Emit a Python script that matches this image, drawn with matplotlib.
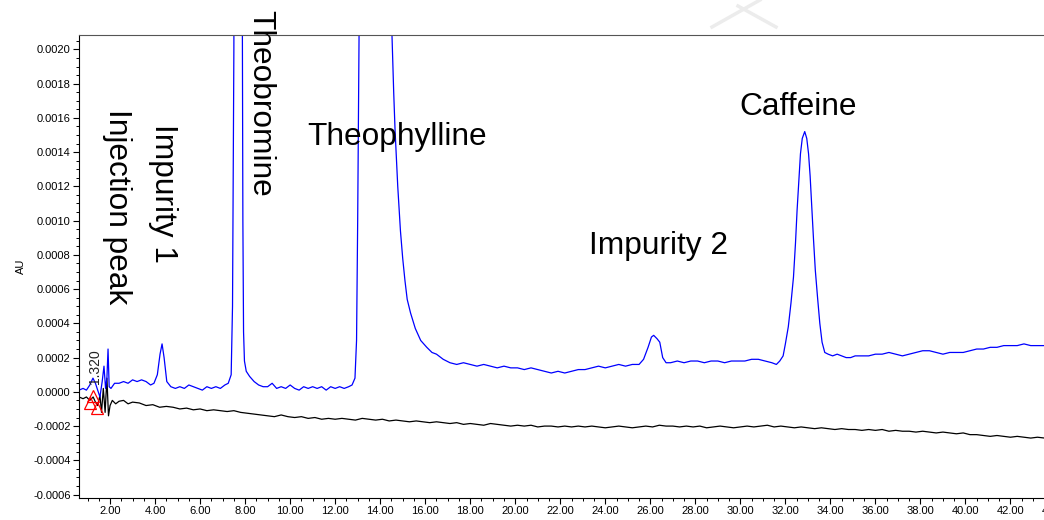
import numpy as np
import matplotlib
matplotlib.use("Agg")
import matplotlib.pyplot as plt
from matplotlib.ticker import MultipleLocator, FormatStrFormatter
from matplotlib.lines import Line2D

plt.rcParams['font.family'] = ['Liberation Sans', 'DejaVu Sans']

# blue trace (sample), time in min, absorbance in 1e-4 AU
blue_t = [0.62, 0.8, 0.95, 1.1, 1.24, 1.35, 1.45, 1.55, 1.65, 1.73, 1.8, 1.86, 1.91, 1.96, 2.04,
          2.2, 2.4, 2.6, 2.8, 3.0, 3.2, 3.4, 3.6, 3.8, 3.95, 4.1, 4.22, 4.31, 4.4, 4.52,
          4.7, 4.9, 5.1, 5.3, 5.5, 5.7, 5.9, 6.1, 6.3, 6.5, 6.7, 6.9, 7.1, 7.25, 7.38,
          7.44, 7.5, 7.6, 7.7, 7.8, 7.87, 7.9, 7.93, 7.97, 8.05, 8.2, 8.4, 8.6, 8.8, 9.0,
          9.2, 9.4, 9.6, 9.8, 10.0, 10.2, 10.4, 10.6, 10.8, 11.0, 11.2, 11.4, 11.6, 11.8, 12.0,
          12.2, 12.4, 12.6, 12.75, 12.88, 12.95, 13.0, 13.07, 13.2, 13.6, 14.0, 14.4, 14.52, 14.6,
          14.66, 14.78, 14.9, 15.0, 15.1, 15.2, 15.35, 15.56, 15.8, 16.07, 16.3, 16.5, 16.8, 17.1,
          17.4, 17.7, 18.0, 18.3, 18.6, 18.9, 19.2, 19.5, 19.8, 20.1, 20.4, 20.7, 21.0, 21.3,
          21.6, 21.9, 22.2, 22.5, 22.8, 23.1, 23.4, 23.7, 24.0, 24.3, 24.6, 24.9, 25.2, 25.5,
          25.7, 25.9, 26.05, 26.15, 26.3, 26.42, 26.55, 26.7, 26.9, 27.2, 27.5, 27.8, 28.1, 28.4,
          28.7, 29.0, 29.3, 29.6, 29.9, 30.2, 30.5, 30.8, 31.1, 31.4, 31.6, 31.75, 31.9, 32.0,
          32.13, 32.25, 32.36, 32.45, 32.52, 32.6, 32.67, 32.75, 32.86, 32.95, 33.03, 33.1, 33.18,
          33.25, 33.33, 33.43, 33.53, 33.63, 33.75, 33.9, 34.1, 34.3, 34.5, 34.7, 34.9, 35.1,
          35.4, 35.7, 36.0, 36.3, 36.6, 36.9, 37.2, 37.5, 37.8, 38.1, 38.4, 38.7, 39.0, 39.3,
          39.6, 39.9, 40.2, 40.5, 40.8, 41.1, 41.4, 41.7, 42.0, 42.3, 42.6, 42.9, 43.2, 43.5, 44.2]
blue_v = [0.1, 0.2, 0.1, 0.4, 0.8, 0.5, 0.1, -0.3, 0.6, 1.5, 0.2, 0.8, 2.5, 0.3, 0.2,
          0.5, 0.5, 0.6, 0.5, 0.7, 0.6, 0.7, 0.6, 0.4, 0.5, 1.0, 2.2, 2.8, 2.0, 0.6,
          0.3, 0.2, 0.3, 0.2, 0.4, 0.3, 0.2, 0.1, 0.3, 0.2, 0.3, 0.2, 0.4, 0.5, 1.0,
          5.0, 20.0, 80.0, 100.0, 80.0, 25.0, 10.0, 3.5, 1.8, 1.2, 0.9, 0.6, 0.4, 0.3, 0.3,
          0.5, 0.2, 0.3, 0.2, 0.4, 0.2, 0.1, 0.3, 0.2, 0.3, 0.2, 0.3, 0.1, 0.3, 0.2,
          0.3, 0.2, 0.3, 0.4, 0.8, 3.0, 10.0, 22.0, 60.0, 120.0, 150.0, 40.0, 21.0, 17.5,
          15.3, 12.0, 9.4, 7.8, 6.5, 5.4, 4.6, 3.7, 3.0, 2.6, 2.3, 2.2, 1.9, 1.7,
          1.6, 1.7, 1.6, 1.5, 1.6, 1.5, 1.4, 1.5, 1.4, 1.4, 1.3, 1.4, 1.3, 1.2,
          1.1, 1.2, 1.1, 1.2, 1.3, 1.3, 1.4, 1.5, 1.4, 1.5, 1.6, 1.5, 1.6, 1.6,
          1.9, 2.6, 3.2, 3.3, 3.1, 2.9, 2.0, 1.7, 1.7, 1.8, 1.7, 1.8, 1.8, 1.7,
          1.8, 1.8, 1.7, 1.8, 1.8, 1.8, 1.9, 1.9, 1.8, 1.7, 1.6, 1.8, 2.1, 2.8,
          3.8, 5.2, 6.7, 8.7, 10.6, 12.4, 13.9, 14.8, 15.2, 14.8, 13.9, 12.6, 10.6,
          8.9, 7.1, 5.5, 4.0, 2.9, 2.3, 2.2, 2.1, 2.2, 2.1, 2.0, 2.0, 2.1,
          2.1, 2.1, 2.2, 2.2, 2.3, 2.2, 2.1, 2.2, 2.3, 2.4, 2.4, 2.3, 2.2, 2.3,
          2.3, 2.3, 2.4, 2.5, 2.5, 2.6, 2.6, 2.7, 2.7, 2.7, 2.8, 2.7, 2.7, 2.7, 2.7]

# black trace (blank), same units
black_t = [0.62, 0.8, 0.95, 1.1, 1.25, 1.35, 1.45, 1.55, 1.62, 1.7, 1.78, 1.86, 1.93, 2.0, 2.1,
           2.25, 2.4, 2.6, 2.8, 3.0, 3.3, 3.6, 3.9, 4.2, 4.5, 4.8, 5.1, 5.4, 5.7, 6.0,
           6.3, 6.6, 6.9, 7.2, 7.5, 7.8, 8.1, 8.4, 8.7, 9.0, 9.3, 9.6, 9.9, 10.2, 10.5,
           10.8, 11.1, 11.4, 11.7, 12.0, 12.3, 12.6, 12.9, 13.2, 13.5, 13.8, 14.1, 14.4, 14.7,
           15.0, 15.3, 15.6, 15.9, 16.2, 16.5, 16.8, 17.1, 17.4, 17.7, 18.0, 18.3, 18.6, 18.9,
           19.2, 19.5, 19.8, 20.1, 20.4, 20.7, 21.0, 21.3, 21.6, 21.9, 22.2, 22.5, 22.8, 23.1,
           23.4, 23.7, 24.0, 24.3, 24.6, 24.9, 25.2, 25.5, 25.8, 26.1, 26.4, 26.7, 27.0, 27.3,
           27.6, 27.9, 28.2, 28.5, 28.8, 29.1, 29.4, 29.7, 30.0, 30.3, 30.6, 30.9, 31.2, 31.5,
           31.8, 32.1, 32.4, 32.7, 33.0, 33.3, 33.6, 33.9, 34.2, 34.5, 34.8, 35.1, 35.4, 35.7,
           36.0, 36.3, 36.6, 36.9, 37.2, 37.5, 37.8, 38.1, 38.4, 38.7, 39.0, 39.3, 39.6, 39.9,
           40.2, 40.5, 40.8, 41.1, 41.4, 41.7, 42.0, 42.3, 42.6, 42.9, 43.2, 43.5, 44.2]
black_v = [-0.3, -0.4, -0.3, -0.5, -0.3, -0.6, -0.8, -0.2, -1.2, 0.2, -1.2, 0.8, -1.4, -0.8, -0.5,
           -0.7, -0.55, -0.5, -0.7, -0.6, -0.65, -0.8, -0.75, -0.9, -0.85, -0.9, -1.0, -0.95, -1.05, -1.0,
           -1.1, -1.05, -1.1, -1.15, -1.1, -1.2, -1.25, -1.3, -1.35, -1.4, -1.45, -1.35, -1.45, -1.5, -1.45,
           -1.55, -1.5, -1.6, -1.55, -1.6, -1.55, -1.6, -1.65, -1.55, -1.6, -1.65, -1.6, -1.7, -1.65,
           -1.7, -1.75, -1.7, -1.75, -1.8, -1.75, -1.8, -1.85, -1.8, -1.9, -1.85, -1.9, -1.95, -1.85,
           -1.9, -1.95, -2.0, -1.95, -2.0, -1.95, -2.05, -2.0, -2.0, -2.05, -2.0, -2.05, -2.0, -2.05,
           -2.0, -2.05, -2.1, -2.05, -2.0, -2.05, -2.1, -2.05, -2.0, -2.05, -1.95, -2.0, -2.0, -2.05,
           -2.0, -2.05, -2.0, -2.1, -2.05, -2.0, -2.05, -2.1, -2.05, -2.0, -2.05, -2.0, -1.95, -2.05,
           -2.0, -2.05, -2.1, -2.05, -2.1, -2.15, -2.1, -2.15, -2.2, -2.15, -2.2, -2.2, -2.25, -2.2,
           -2.25, -2.2, -2.3, -2.25, -2.3, -2.3, -2.35, -2.3, -2.35, -2.4, -2.35, -2.4, -2.45, -2.4,
           -2.5, -2.5, -2.55, -2.6, -2.55, -2.6, -2.65, -2.6, -2.65, -2.7, -2.65, -2.7, -2.75]

# integration markers near the injection peak
mark_t = [1.11, 1.26, 1.43]
mark_v = [-0.66, -0.27, -0.95]

peak_names = ["Injection peak", "Impurity 1", "Theobromine", "Theophylline", "Impurity 2", "Caffeine"]

blue_au = np.array(blue_v) * 1e-4
black_au = np.array(black_v) * 1e-4

fig = plt.figure(figsize=(10.44, 5.2), dpi=100)
ax = fig.add_axes([79 / 1044, 22 / 520, 981 / 1044, 463 / 520])

ax.plot(black_t, black_au, color='black', lw=0.9)
ax.plot(blue_t, blue_au, color='#0000ff', lw=0.9)
ax.plot(mark_t, np.array(mark_v) * 1e-4, ls='none', marker='^', ms=8,
        mfc='none', mec='red', mew=0.9)

ax.set_xlim(0.62, 44.2)
ax.set_ylim(-0.00062, 0.002084)

ax.xaxis.set_major_locator(MultipleLocator(2))
ax.xaxis.set_minor_locator(MultipleLocator(0.5))
ax.xaxis.set_major_formatter(FormatStrFormatter('%.2f'))
ax.yaxis.set_major_locator(MultipleLocator(0.0002))
ax.yaxis.set_minor_locator(MultipleLocator(0.00005))
ax.yaxis.set_major_formatter(FormatStrFormatter('%.4f'))
ax.tick_params(which='major', labelsize=8, length=4, width=0.8, pad=2)
ax.tick_params(which='minor', length=2, width=0.7)
ax.set_ylabel('AU', fontsize=8, labelpad=5)

ax.spines['right'].set_visible(False)
ax.spines['top'].set_color('#555555')
ax.spines['top'].set_linewidth(0.8)

big = 22.8
ax.text(2.33, 0.001083, peak_names[0], rotation=270, fontsize=big, ha='center', va='center')
ax.text(4.33, 0.001156, peak_names[1], rotation=270, fontsize=big, ha='center', va='center')
ax.text(8.67, 0.001683, peak_names[2], rotation=270, fontsize=big, ha='center', va='center')
ax.text(14.73, 0.00144, peak_names[3], fontsize=big, ha='center', va='baseline')
ax.text(26.38, 0.000807, peak_names[4], fontsize=big, ha='center', va='baseline')
ax.text(32.58, 0.001615, peak_names[5], fontsize=big, ha='center', va='baseline')
ax.text(1.32, 0.0000445, "1.320", rotation=90, fontsize=10, ha='center', va='bottom', color='#222222')

# faint watermark strokes at the top
fig.add_artist(Line2D([712 / 1044, 760 / 1044], [1 - 27 / 520, 1.0], color='#ececec', lw=2.5))
fig.add_artist(Line2D([738 / 1044, 776 / 1044], [1 - 6 / 520, 1 - 27 / 520], color='#ececec', lw=2.5))

fig.savefig('out.png', dpi=100)
